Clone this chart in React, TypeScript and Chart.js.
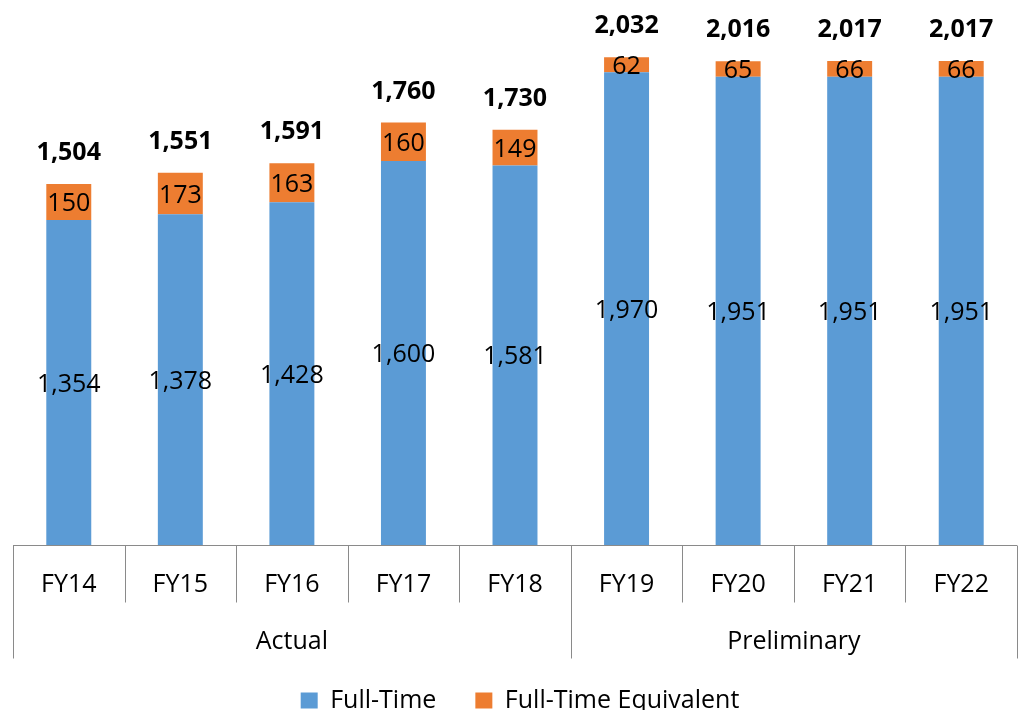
import React, { useEffect, useRef } from 'react';
import { Chart, registerables } from 'chart.js';

Chart.register(...registerables);

const categories = ['FY14', 'FY15', 'FY16', 'FY17', 'FY18', 'FY19', 'FY20', 'FY21', 'FY22'];
const groupLabels = ['Actual', 'Preliminary'];
const groupSizes = [5, 4];
const fullTime = [1354, 1378, 1428, 1600, 1581, 1970, 1951, 1951, 1951];
const fullTimeEquivalent = [150, 173, 163, 160, 149, 62, 65, 66, 66];
const totals = [1504, 1551, 1591, 1760, 1730, 2032, 2016, 2017, 2017];

const FONT = '"Open Sans", "DejaVu Sans", sans-serif';
const AXIS_COLOR = '#8a8a8a';

const fmt = (v: number) => v.toLocaleString('en-US');

const labelsPlugin = {
  id: 'barLabels',
  afterDatasetsDraw(chart: any) {
    const ctx = chart.ctx;
    ctx.save();
    ctx.fillStyle = '#000';
    ctx.textAlign = 'center';
    ctx.textBaseline = 'alphabetic';
    ctx.font = `25px ${FONT}`;
    chart.data.datasets.forEach((ds: any, di: number) => {
      const meta = chart.getDatasetMeta(di);
      meta.data.forEach((bar: any, i: number) => {
        const { x, y, base } = bar.getProps(['x', 'y', 'base'], true);
        ctx.fillText(fmt(ds.data[i]), x, (y + base) / 2 + 9);
      });
    });
    ctx.font = `bold 25px ${FONT}`;
    const yScale = chart.scales.y;
    const meta = chart.getDatasetMeta(0);
    meta.data.forEach((bar: any, i: number) => {
      const top = yScale.getPixelForValue(totals[i]);
      ctx.fillText(fmt(totals[i]), bar.x, top - 24);
    });
    ctx.restore();
  },
};

const legendShiftPlugin = {
  id: 'legendShift',
  afterLayout(chart: any) {
    if (chart.legend) {
      chart.legend.left += 5;
      chart.legend.right += 5;
    }
  },
};

const axisPlugin = {
  id: 'multiAxis',
  afterDraw(chart: any) {
    const ctx = chart.ctx;
    const xs = chart.scales.x;
    const { bottom } = chart.chartArea;
    const n = categories.length;
    const boundary = (i: number) => {
      if (i === 0) return xs.left;
      if (i === n) return xs.right;
      return (xs.getPixelForValue(i - 1) + xs.getPixelForValue(i)) / 2;
    };
    const groupEdges = new Set<number>([0]);
    let acc = 0;
    groupSizes.forEach((s) => {
      acc += s;
      groupEdges.add(acc);
    });
    ctx.save();
    ctx.strokeStyle = AXIS_COLOR;
    ctx.lineWidth = 1;
    const yb = Math.round(bottom) + 0.5;
    ctx.beginPath();
    ctx.moveTo(xs.left, yb);
    ctx.lineTo(xs.right, yb);
    for (let i = 0; i <= n; i++) {
      const x = Math.round(boundary(i)) + 0.5;
      ctx.moveTo(x, yb);
      ctx.lineTo(x, yb + (groupEdges.has(i) ? 113 : 57));
    }
    ctx.stroke();

    ctx.fillStyle = '#000';
    ctx.textAlign = 'center';
    ctx.textBaseline = 'alphabetic';
    ctx.font = `25px ${FONT}`;
    categories.forEach((c, i) => {
      ctx.fillText(c, xs.getPixelForValue(i), bottom + 47);
    });
    let start = 0;
    groupLabels.forEach((g, gi) => {
      const end = start + groupSizes[gi];
      const cx = (boundary(start) + boundary(end)) / 2;
      ctx.fillText(g, cx, bottom + 104);
      start = end;
    });
    ctx.restore();
  },
};

export default function App() {
  const canvasRef = useRef<HTMLCanvasElement | null>(null);

  useEffect(() => {
    if (!canvasRef.current) return;
    const chart = new Chart(canvasRef.current, {
      type: 'bar',
      data: {
        labels: categories,
        datasets: [
          {
            label: 'Full-Time',
            data: fullTime,
            backgroundColor: '#5B9BD5',
            barPercentage: 0.403,
            categoryPercentage: 1,
          },
          {
            label: 'Full-Time Equivalent',
            data: fullTimeEquivalent,
            backgroundColor: '#ED7D31',
            barPercentage: 0.403,
            categoryPercentage: 1,
          },
        ],
      },
      options: {
        animation: false,
        responsive: true,
        maintainAspectRatio: false,
        layout: { padding: { left: 13, right: 9, top: 17, bottom: -13 } },
        scales: {
          x: {
            stacked: true,
            grid: { display: false },
            border: { display: false },
            ticks: { display: false },
            afterFit: (scale: any) => {
              scale.height = 104;
            },
          },
          y: {
            stacked: true,
            display: false,
            min: 0,
            max: 2200,
          },
        },
        plugins: {
          tooltip: { enabled: false },
          legend: {
            position: 'bottom',
            labels: {
              boxWidth: 17,
              boxHeight: 16,
              padding: 39,
              color: '#000',
              font: { family: FONT, size: 25 },
            },
          },
        },
      },
      plugins: [labelsPlugin, axisPlugin, legendShiftPlugin],
    });
    return () => chart.destroy();
  }, []);

  return (
    <div style={{ position: 'absolute', left: 0, top: 0, width: 1026, height: 710, background: '#fff' }}>
      <canvas ref={canvasRef} />
    </div>
  );
}
